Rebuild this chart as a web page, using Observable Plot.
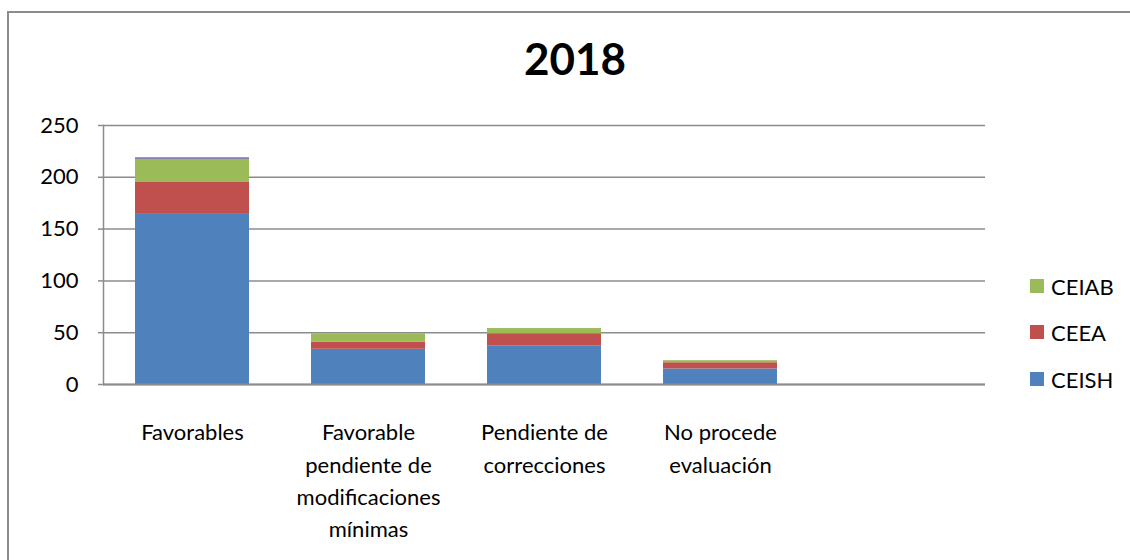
<!DOCTYPE html>
<html>
<head>
<meta charset="utf-8">
<script src="https://cdn.jsdelivr.net/npm/d3@7"></script>
<script src="https://cdn.jsdelivr.net/npm/@observablehq/plot@0.6"></script>
<style>
  html, body { margin: 0; padding: 0; background: #fff; }
  #wrap { position: relative; width: 1130px; height: 560px; overflow: hidden; font-family: Lato, sans-serif; }
  #border { position: absolute; left: 7px; top: 11px; width: 1140px; height: 600px; border: 2px solid #8c8c8c; box-sizing: border-box; }
  #title { position: absolute; left: 575px; top: 36px; transform: translateX(-50%); font-size: 44px; font-weight: bold; color: #000; line-height: 1; }
  #chart { position: absolute; left: 0; top: 0; }
  .leg { position: absolute; left: 1030px; font-size: 22px; color: #000; display: flex; align-items: center; height: 24px; }
  .leg span.sw { display: inline-block; width: 14px; height: 14px; margin-right: 7px; }
</style>
</head>
<body>
<div id="wrap">
  <div id="border"></div>
  <div id="chart"></div>
  <div id="title">2018</div>
  <div id="legend"></div>
</div>
<script>
const categories = ["Favorables", "Favorable pendiente de modificaciones mínimas", "Pendiente de correcciones", "No procede evaluación"];
const categoryLabels = ["Favorables", "Favorable\npendiente de\nmodificaciones\nmínimas", "Pendiente de\ncorrecciones", "No procede\nevaluación"];
const emptySlot = [" "];
const seriesNames = ["CEISH", "CEEA", "CEIAB", "Serie 4", "Serie 5"];
const seriesColors = ["#4F81BD", "#C0504D", "#9BBB59", "#8064A2", "#4BACC6"];
const legendSeries = ["CEIAB", "CEEA", "CEISH"];
const CEISH = [165, 34, 37, 15];
const CEEA = [30, 7, 12, 6];
const CEIAB = [22, 8, 5, 2];
const SERIE4 = [1, 0, 0, 0];
const SERIE5 = [1, 0, 0, 0];
const yTicks = [0, 50, 100, 150, 200, 250];

const seriesValues = [CEISH, CEEA, CEIAB, SERIE4, SERIE5];
const rows = [];
seriesNames.forEach((s, si) => {
  categories.forEach((c, ci) => {
    rows.push({category: c, series: s, value: seriesValues[si][ci]});
  });
});
const labelRows = categories.map((c, i) => ({category: c, label: categoryLabels[i]}));

const chart = Plot.plot({
  width: 1130,
  height: 560,
  marginLeft: 103,
  marginRight: 145,
  marginTop: 125,
  marginBottom: 176,
  style: {fontFamily: "Lato, sans-serif", fontSize: "22px", color: "#000", background: "transparent", overflow: "visible"},
  x: {domain: categories.concat(emptySlot), paddingInner: 0.353, paddingOuter: 0.1765, axis: null},
  y: {domain: [0, 250], axis: null},
  color: {domain: seriesNames, range: seriesColors},
  marks: [
    Plot.gridY(yTicks, {stroke: "#8c8c8c", strokeOpacity: 1, strokeWidth: 1.5}),
    Plot.axisY(yTicks, {tickSize: 5, tickPadding: 20, stroke: "#8c8c8c", strokeWidth: 1.5, fontSize: 22, fill: "#000", label: null}),
    Plot.barY(rows, Plot.stackY({order: seriesNames}, {x: "category", y: "value", fill: "series"})),
    Plot.frame({anchor: "left", stroke: "#8c8c8c", strokeWidth: 1.5}),
    Plot.ruleY([0], {stroke: "#8c8c8c", strokeWidth: 2}),
    Plot.text(labelRows, {x: "category", text: "label", frameAnchor: "bottom", lineAnchor: "top", lineHeight: 1.47, dy: 33, fontSize: 22, fill: "#000"})
  ]
});
document.getElementById("chart").appendChild(chart);

const legendTops = {CEIAB: 274, CEEA: 320, CEISH: 367};
const legendEl = document.getElementById("legend");
legendSeries.forEach(s => {
  const d = document.createElement("div");
  d.className = "leg";
  d.style.top = legendTops[s] + "px";
  const sw = document.createElement("span");
  sw.className = "sw";
  sw.style.background = seriesColors[seriesNames.indexOf(s)];
  d.appendChild(sw);
  d.appendChild(document.createTextNode(s));
  legendEl.appendChild(d);
});
</script>
</body>
</html>
